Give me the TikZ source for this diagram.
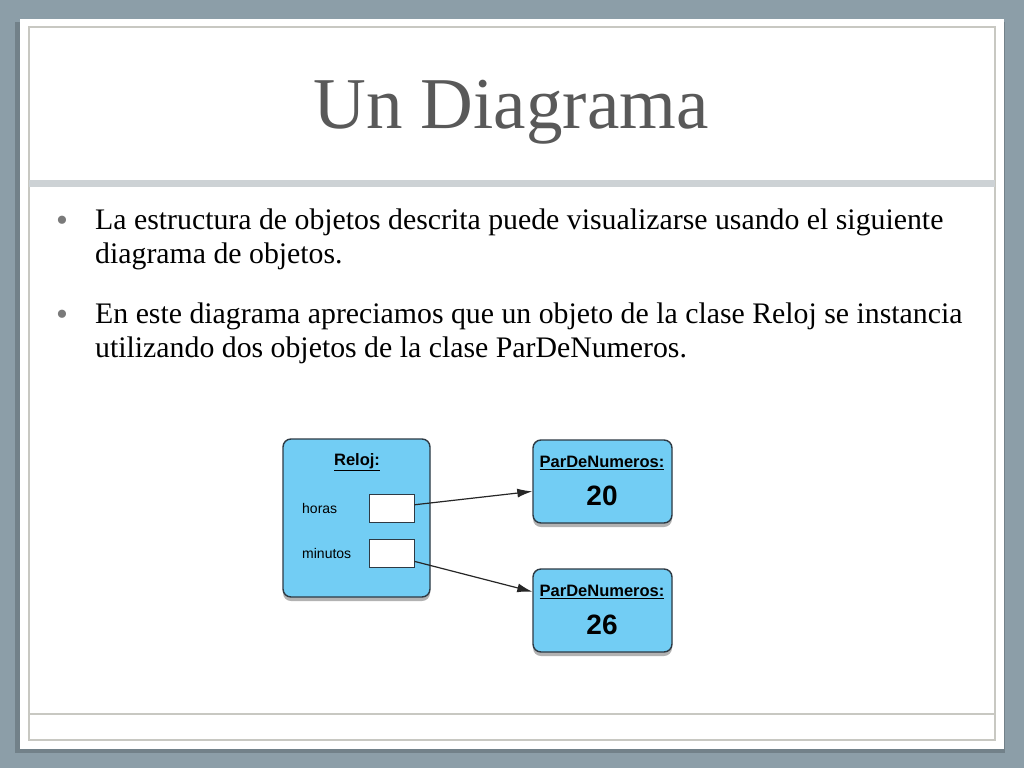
\documentclass[tikz,border=0pt]{standalone}
\usepackage{fontspec}
\setmainfont{Liberation Serif}
\newfontfamily\diafont{Liberation Sans}
\usetikzlibrary{arrows.meta,shadows,calc,positioning}

\definecolor{slidebg}{HTML}{8C9EA8}
\definecolor{framegray}{HTML}{C8C8C2}
\definecolor{barcol}{HTML}{CDD2D5}
\definecolor{titlegray}{HTML}{595959}
\definecolor{bulletgray}{HTML}{7A7A7A}
\definecolor{objblue}{HTML}{72CDF4}
\definecolor{objline}{HTML}{2E3A44}

\tikzset{
	objbox/.style={draw=objline, line width=1.4pt, fill=objblue, rounded corners=8pt,
		drop shadow={shadow xshift=0pt, shadow yshift=-4pt, opacity=.6}},
	slot/.style={draw=objline, line width=1pt, fill=white, minimum width=45pt, minimum height=28pt, inner sep=0pt},
	link/.style={-{Latex[length=15pt,width=9pt]}, line width=1.2pt, black!85},
	bodytext/.style={anchor=base west, inner sep=0pt, align=left, font=\fontsize{29.8}{34}\selectfont},
	dot/.style={anchor=base, inner sep=0pt, bulletgray, font=\fontsize{34}{34}\selectfont},
	attr/.style={anchor=west, inner sep=0pt, font=\diafont\fontsize{14}{16}\selectfont},
	objname/.style={inner sep=0pt, font=\diafont\bfseries\fontsize{16.5}{20}\selectfont},
	objval/.style={inner sep=0pt, font=\diafont\bfseries\fontsize{28}{30}\selectfont},
}

\begin{document}
\begin{tikzpicture}[x=1pt,y=-1pt]
		% slide frame
		\fill[slidebg] (0,0) rectangle (1024,768);
		\useasboundingbox (0,0) rectangle (1024,768);
		\fill[black,opacity=.18] (15,22) rectangle (1005,753);
		\fill[white] (20,19) rectangle (1004,749);
		\draw[framegray, line width=1.2pt] (29,27) rectangle (995,740);
		\fill[barcol] (29,180) rectangle (995,187);
		\draw[framegray, line width=1.2pt] (29,714) -- (995,714);
		
		\node[titlegray, anchor=base, inner sep=0pt, font=\fontsize{73}{80}\selectfont] (title) at (511,128) {Un Diagrama};
		
		% bullets (base = last line)
		\node[dot] (dot1) at (62,231) {\textbullet};
		\node[bodytext] (item1) at (95,263) {La estructura de objetos descrita puede visualizarse usando el siguiente\\diagrama de objetos.};
		\node[dot] (dot2) at (62,325) {\textbullet};
		\node[bodytext] (item2) at (95,357) {En este diagrama apreciamos que un objeto de la clase Reloj se instancia\\utilizando dos objetos de la clase ParDeNumeros.};
		
		% object diagram
		\node[objbox, minimum width=147pt, minimum height=158pt] (reloj) at (356.5,518) {};
		\node[objname] (relojname) at (357,462) {\underline{Reloj:}};
		\node[attr] (horas) at (302,508) {horas};
		\node[attr] (minutos) at (302,553) {minutos};
		\node[slot] (hslot) at (391.5,508) {};
		\node[slot] (mslot) at (391.5,553) {};
		
		\node[objbox, minimum width=139pt, minimum height=83pt] (par1) at (602.5,481.5) {};
		\node[objname] (par1name) at (602,463) {\underline{ParDeNumeros:}};
		\node[objval] (par1val) at (602,496) {20};
		\node[objbox, minimum width=139pt, minimum height=83pt] (par2) at (602.5,610.5) {};
		\node[objname] (par2name) at (602,592) {\underline{ParDeNumeros:}};
		\node[objval] (par2val) at (602,625) {26};
		
		\draw[link] (hslot.8) -- (par1.188);
		\draw[link] (mslot.-20) -- (par2.165);
\end{tikzpicture}
\end{document}
